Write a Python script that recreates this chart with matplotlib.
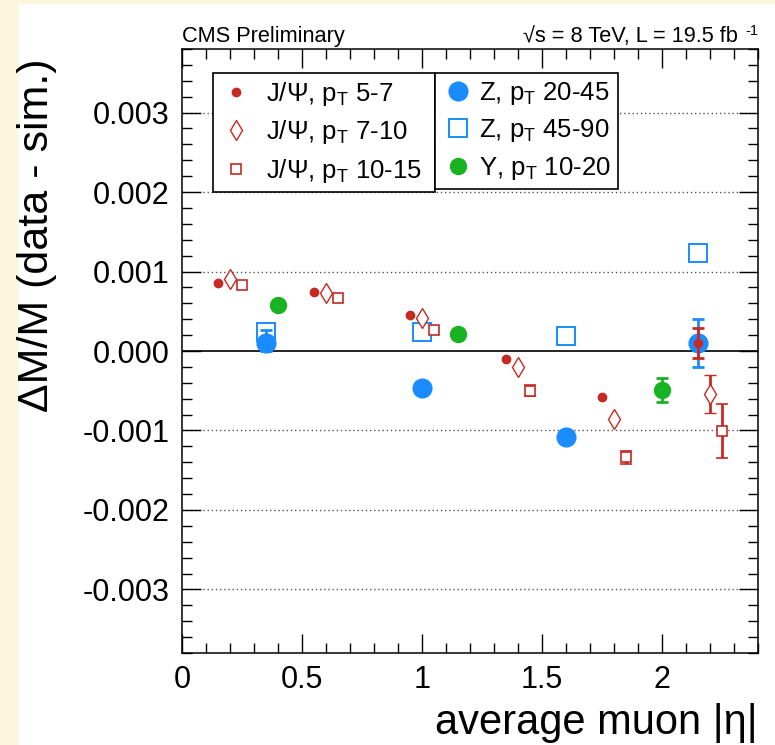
import matplotlib
matplotlib.use("Agg")
import matplotlib.pyplot as plt
from matplotlib.patches import Rectangle
from matplotlib.ticker import MultipleLocator, FormatStrFormatter

# J/Psi, pT 5-7
jpsi1_x = [0.15, 0.55, 0.95, 1.35, 1.75, 2.15]
jpsi1_y = [0.00085, 0.00074, 0.00045, -0.00010, -0.00058, 0.00010]
jpsi1_e = [0.0, 0.0, 0.0, 0.0, 0.0, 0.00019]
# J/Psi, pT 7-10
jpsi2_x = [0.20, 0.60, 1.00, 1.40, 1.80, 2.20]
jpsi2_y = [0.00090, 0.00073, 0.00041, -0.00020, -0.00085, -0.00054]
jpsi2_e = [0.0, 0.0, 0.0, 0.0, 0.0, 0.00024]
# J/Psi, pT 10-15
jpsi3_x = [0.25, 0.65, 1.05, 1.45, 1.85, 2.25]
jpsi3_y = [0.00083, 0.00067, 0.00026, -0.00050, -0.00134, -0.00101]
jpsi3_e = [0.0, 0.0, 0.0, 0.00007, 0.00008, 0.00034]
# Z, pT 20-45
z1_x = [0.35, 1.00, 1.60, 2.15]
z1_y = [0.00010, -0.00047, -0.00108, 0.00010]
z1_elo = [0.00010, 0.0, 0.0, 0.00030]
z1_ehi = [0.00016, 0.0, 0.0, 0.00030]
# Z, pT 45-90
z2_x = [0.35, 1.00, 1.60, 2.15]
z2_y = [0.00024, 0.00024, 0.00019, 0.00123]
# Upsilon, pT 10-20
ups_x = [0.40, 1.15, 2.00]
ups_y = [0.00058, 0.00021, -0.00049]
ups_e = [0.0, 0.0, 0.00015]

labels_left = ["J/Ψ, p$_\\mathregular{T}$ 5-7", "J/Ψ, p$_\\mathregular{T}$ 7-10",
               "J/Ψ, p$_\\mathregular{T}$ 10-15"]
labels_right = ["Z, p$_\\mathregular{T}$ 20-45", "Z, p$_\\mathregular{T}$ 45-90",
                "Υ, p$_\\mathregular{T}$ 10-20"]

red = '#c62a22'
blue = '#1a8cff'
green = '#17b322'

plt.rcParams['font.family'] = ['Liberation Sans', 'DejaVu Sans']
plt.rcParams['axes.unicode_minus'] = False

fig = plt.figure(figsize=(7.75, 7.45), dpi=100, facecolor='#fcf6dc')
fig.patches.append(Rectangle((19/775, 0), 1 - 19/775, 1 - 4/745, transform=fig.transFigure,
                             facecolor='white', edgecolor='none', zorder=-1))
ax = fig.add_axes([182/775, 1 - 653/745, 576/775, 604/745])

ax.set_xlim(0, 2.4)
ax.set_ylim(-0.0038, 0.0038)

for g in [-0.003, -0.002, -0.001, 0.001, 0.002, 0.003]:
    ax.axhline(g, color='#555555', lw=1.0, ls=(0, (1, 2)), zorder=1)
ax.axhline(0, color='black', lw=1.2, zorder=1)

ebar = dict(elinewidth=2, capsize=4, capthick=2, ls='none')
h_z2, = ax.plot(z2_x, z2_y, 's', ms=13.5, mfc='none', mec=blue, mew=1.4, ls='none', zorder=3)
h_z1 = ax.errorbar(z1_x, z1_y, yerr=[z1_elo, z1_ehi], fmt='o', ms=13.5, color=blue,
                   ecolor=blue, zorder=4, errorevery=[e > 0 for e in z1_ehi], **ebar)
h_ups = ax.errorbar(ups_x, ups_y, yerr=ups_e, fmt='o', ms=11.5, color=green, ecolor=green,
                    zorder=4, errorevery=[e > 0 for e in ups_e], **ebar)
h_j3 = ax.errorbar(jpsi3_x, jpsi3_y, yerr=jpsi3_e, fmt='s', ms=7.5, mfc='white', mec=red,
                   mew=1.2, ecolor=red, zorder=5, errorevery=[e > 0 for e in jpsi3_e], **ebar)
h_j2 = ax.errorbar(jpsi2_x, jpsi2_y, yerr=jpsi2_e, fmt='d', ms=10, mfc='white', mec=red,
                   mew=1.0, ecolor=red, zorder=5, errorevery=[e > 0 for e in jpsi2_e], **ebar)
h_j1 = ax.errorbar(jpsi1_x, jpsi1_y, yerr=jpsi1_e, fmt='o', ms=6, color=red, ecolor=red,
                   zorder=6, errorevery=[e > 0 for e in jpsi1_e], **ebar)

# two legend boxes sharing an edge
x0 = (213 - 182) / 576
x1 = (435 - 182) / 576
x2 = (618 - 182) / 576
ytop = (653 - 73) / 604
hgt = (190 - 73) / 604
common = dict(loc='upper left', mode='expand', borderaxespad=0, fancybox=False,
              edgecolor='black', framealpha=1, fontsize=18.5, labelspacing=0.4,
              borderpad=0.28, handlelength=1.2)
leg1 = ax.legend([h_j1[0], h_j2[0], h_j3[0]], labels_left, handletextpad=0.6,
                 bbox_to_anchor=(x0, ytop - hgt, x1 - x0, hgt), **common)
leg1.get_frame().set_linewidth(1.2)
ax.add_artist(leg1)
leg2 = ax.legend([h_z1[0], h_z2, h_ups[0]], labels_right, handletextpad=0.25,
                 bbox_to_anchor=(x1, ytop - hgt, x2 - x1, hgt), **common)
leg2.get_frame().set_linewidth(1.2)
leg1.set_zorder(10)
leg2.set_zorder(10)

ax.xaxis.set_major_locator(MultipleLocator(0.5))
ax.xaxis.set_minor_locator(MultipleLocator(0.1))
ax.yaxis.set_major_locator(MultipleLocator(0.001))
ax.yaxis.set_minor_locator(MultipleLocator(0.0002))
ax.yaxis.set_major_formatter(FormatStrFormatter('%.3f'))
ax.xaxis.set_major_formatter(matplotlib.ticker.FuncFormatter(lambda v, p: '%g' % v))
ax.tick_params(which='both', direction='in', top=True, right=True, labelsize=22, width=1.0)
ax.tick_params(which='major', length=14, pad=9)
ax.tick_params(which='minor', length=7)
for s in ax.spines.values():
    s.set_linewidth(1.1)

fig.text(37/775, 1 - 58/745, "ΔM/M (data - sim.)", rotation=90, ha='center', va='top', fontsize=31)
fig.text(758/775, 1 - 734/745, "average muon |η|", ha='right', va='baseline', fontsize=30)
fig.text(182/775, 1 - 42/745, "CMS Preliminary", ha='left', va='baseline', fontsize=15.7)
fig.text(738/775, 1 - 42/745, "√s = 8 TeV, L = 19.5 fb", ha='right', va='baseline', fontsize=15.7)
fig.text(758/775, 1 - 35/745, "-1", ha='right', va='baseline', fontsize=10.5)

fig.savefig('out.png', dpi=100, facecolor=fig.get_facecolor())
